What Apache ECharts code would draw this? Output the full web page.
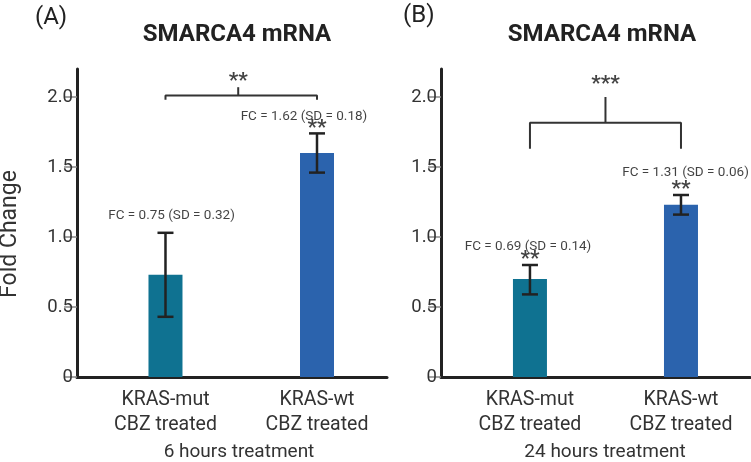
<!DOCTYPE html>
<html>
<head>
<meta charset="utf-8">
<script src="https://cdn.jsdelivr.net/npm/echarts@6/dist/echarts.min.js"></script>
<style>
html,body{margin:0;padding:0;background:#fff;}
#chart{width:751px;height:462px;}
</style>
</head>
<body>
<div id="chart"></div>
<script>
// ---- data ----
const categories = ['KRAS-mut\nCBZ treated', 'KRAS-wt\nCBZ treated'];
const yTicks = [0, 0.5, 1.0, 1.5, 2.0];
const valuesA = [0.73, 1.60];
const errLowA = [0.43, 1.46];
const errHighA = [1.03, 1.74];
const valuesB = [0.70, 1.23];
const errLowB = [0.59, 1.16];
const errHighB = [0.80, 1.30];
const fcLabelsA = ['FC = 0.75 (SD = 0.32)', 'FC = 1.62 (SD = 0.18)'];
const fcLabelsB = ['FC = 0.69 (SD = 0.14)', 'FC = 1.31 (SD = 0.06)'];
const starsA = ['', '**'];
const starsB = ['**', '**'];
const bracketStarsA = '**';
const bracketStarsB = '***';
const panelTitles = ['SMARCA4 mRNA', 'SMARCA4 mRNA'];
const panelLetters = ['(A)', '(B)'];
const treatments = ['6 hours treatment', '24 hours treatment'];
const yName = 'Fold Change';

// ---- styles ----
const barColors = ['#0f7291', '#2b63ad'];
const ink = '#222';
const font = 'Roboto, "Noto Sans", sans-serif';

const chart = echarts.init(document.getElementById('chart'), null, {renderer: 'canvas'});

function xAxisCfg(gridIndex, min, max) {
  return {
    type: 'value', gridIndex, min, max,
    axisLine: {show: true, onZero: false, lineStyle: {color: ink, width: 3}},
    axisTick: {show: false},
    splitLine: {show: false},
    axisLabel: {
      customValues: [0, 1],
      formatter: v => categories[Math.round(v)],
      fontFamily: font, fontSize: 19.5, lineHeight: 25, color: '#333', margin: 11
    }
  };
}
function yAxisCfg(gridIndex) {
  return {
    type: 'value', gridIndex, min: 0, max: 2.2, interval: 0.5,
    axisLine: {show: true, onZero: false, lineStyle: {color: ink, width: 3}},
    axisTick: {show: true, customValues: yTicks, length: 13, lineStyle: {color: '#888', width: 1.5}},
    splitLine: {show: false},
    axisLabel: {
      customValues: yTicks,
      formatter: v => (v === 0 ? '0' : v.toFixed(1)),
      fontFamily: font, fontSize: 18.5, color: '#333', margin: 4
    }
  };
}

function barSeries(idx, values) {
  return {
    type: 'bar', xAxisIndex: idx, yAxisIndex: idx, barWidth: 34, z: 2,
    data: values.map((v, i) => ({value: [i, v], itemStyle: {color: barColors[i]}})),
    silent: true
  };
}
function errSeries(idx, lows, highs) {
  return {
    type: 'custom', xAxisIndex: idx, yAxisIndex: idx, z: 10,
    data: lows.map((l, i) => [i, l, highs[i]]),
    encode: {x: 0, y: [1, 2]},
    renderItem: (params, api) => {
      const lo = api.coord([api.value(0), api.value(1)]);
      const hi = api.coord([api.value(0), api.value(2)]);
      const hw = 8;
      const st = {stroke: ink, lineWidth: 2.5};
      return {type: 'group', children: [
        {type: 'line', shape: {x1: lo[0], y1: lo[1], x2: hi[0], y2: hi[1]}, style: st},
        {type: 'line', shape: {x1: lo[0]-hw, y1: lo[1], x2: lo[0]+hw, y2: lo[1]}, style: st},
        {type: 'line', shape: {x1: hi[0]-hw, y1: hi[1], x2: hi[0]+hw, y2: hi[1]}, style: st}
      ]};
    }
  };
}
function textSeries(idx, items, size, weight) {
  return {
    type: 'scatter', xAxisIndex: idx, yAxisIndex: idx, symbolSize: 0, silent: true, z: 11,
    data: items.map(it => ({value: [it[0], it[1]], name: it[2]})),
    label: {show: true, position: 'inside', formatter: p => p.name,
      fontFamily: font, fontSize: size, fontWeight: weight || 'normal', color: '#111',
      textBorderWidth: 0}
  };
}
function lineSeries(idx, pts) {
  return {
    type: 'line', xAxisIndex: idx, yAxisIndex: idx, data: pts, symbol: 'none', silent: true,
    lineStyle: {color: '#333', width: 2}
  };
}

const option = {
  animation: false,
  backgroundColor: '#fff',
  grid: [
    {left: 77, width: 310, top: 69, height: 308},
    {left: 441, width: 309, top: 69, height: 308}
  ],
  xAxis: [xAxisCfg(0, -0.584, 1.462), xAxisCfg(1, -0.589, 1.457)],
  yAxis: [yAxisCfg(0), yAxisCfg(1)],
  series: [
    barSeries(0, valuesA),
    barSeries(1, valuesB),
    errSeries(0, errLowA, errHighA),
    errSeries(1, errLowB, errHighB),
    // brackets
    lineSeries(0, [[0, 1.98], [0, 2.01], [1, 2.01], [1, 1.98]]),
    lineSeries(0, [[0.48, 2.01], [0.48, 2.07]]),
    lineSeries(1, [[0, 1.63], [0, 1.816], [1, 1.816], [1, 1.63]]),
    lineSeries(1, [[0.5, 1.816], [0.5, 2.0]]),
    // FC labels
    textSeries(0, [[0.04, 1.15, fcLabelsA[0]], [0.914, 1.86, fcLabelsA[1]]], 13.5),
    textSeries(1, [[-0.013, 0.93, fcLabelsB[0]], [1.03, 1.46, fcLabelsB[1]]], 13.5),
    // stars
    textSeries(0, [[0, 0.9, starsA[0]], [1, 1.77, starsA[1]], [0.48, 2.11, bracketStarsA]], 21, 'bold'),
    textSeries(1, [[0, 0.84, starsB[0]], [1, 1.34, starsB[1]], [0.5, 2.09, bracketStarsB]], 21, 'bold')
  ],
  graphic: [
    {type: 'text', x: 35, y: 18, style: {text: panelLetters[0], fontFamily: font, fontSize: 24, fill: ink, verticalAlign: 'middle'}},
    {type: 'text', x: 403, y: 16, style: {text: panelLetters[1], fontFamily: font, fontSize: 24, fill: ink, verticalAlign: 'middle'}},
    {type: 'text', x: 237, y: 35, style: {text: panelTitles[0], fontFamily: font, fontSize: 24, fontWeight: 'bold', fill: ink, align: 'center', verticalAlign: 'middle'}},
    {type: 'text', x: 602, y: 35, style: {text: panelTitles[1], fontFamily: font, fontSize: 24, fontWeight: 'bold', fill: ink, align: 'center', verticalAlign: 'middle'}},
    {type: 'text', x: 239, y: 452, style: {text: treatments[0], fontFamily: font, fontSize: 19, fill: '#333', align: 'center', verticalAlign: 'middle'}},
    {type: 'text', x: 605, y: 452, style: {text: treatments[1], fontFamily: font, fontSize: 19, fill: '#333', align: 'center', verticalAlign: 'middle'}},
    {type: 'text', x: 10, y: 234, rotation: Math.PI / 2, style: {text: yName, fontFamily: font, fontSize: 23, fill: '#333', align: 'center', verticalAlign: 'middle'}}
  ]
};
chart.setOption(option);
</script>
</body>
</html>
